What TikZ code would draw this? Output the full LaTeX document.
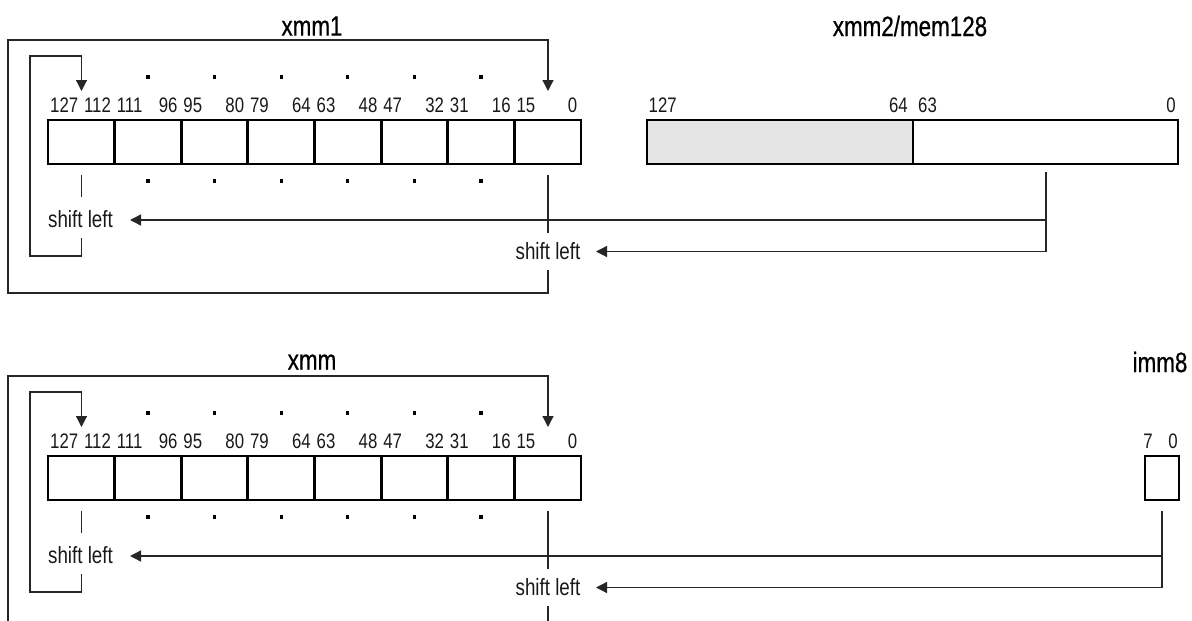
\documentclass[tikz,border=0pt]{standalone}
\usepackage{fontspec}
\setmainfont{Liberation Sans}
\newfontfamily\condfont[FakeStretch=0.8]{Liberation Sans}
\newfontfamily\titlefont[FakeStretch=0.8,FakeBold=0.6]{Liberation Sans}
\usetikzlibrary{arrows.meta}
\begin{document}
\begin{tikzpicture}[x=1pt,y=-1pt,
  thinline/.style={line width=1.3pt, draw=black!85},
  arr/.style={thinline,-{Triangle[width=11pt,length=11pt]}},
  regbox/.style={draw=black, line width=2.8pt, minimum height=44pt, inner sep=0pt, outer sep=0pt},
  bitlab/.style={font=\condfont\fontsize{21}{21}\selectfont, inner sep=0pt, text=black!90},
  sllab/.style={font=\condfont\fontsize{23.5}{23.5}\selectfont, inner sep=0pt, text=black!90},
  regtitle/.style={font=\titlefont\fontsize{28}{28}\selectfont, inner sep=0pt},
  bitdot/.style={fill=black, minimum size=3.2pt, inner sep=0pt, draw=none}
]
\useasboundingbox (0,0) rectangle (1192,621);
\clip (0,0) rectangle (1192,621);

% ---------- the two xmm register sections ----------
\foreach \s/\off/\ttl in {A/0/xmm1, B/336/xmm}{
  \begin{scope}[shift={(0,\off)}]
    \node[regtitle] (\s-title) at (312,26) {\ttl};
    \foreach \i in {0,...,7}{
      \pgfmathsetmacro\cx{48+66.625*(\i+0.5)}
      \pgfmathsetmacro\lx{48+66.625*\i+2}
      \pgfmathsetmacro\rx{48+66.625*(\i+1)-3.5}
      \pgfmathtruncatemacro\hi{127-16*\i}
      \pgfmathtruncatemacro\lo{112-16*\i}
      \node[regbox, minimum width=66.625pt] (\s-c\i) at (\cx,142) {};
      \node[bitlab, anchor=west] (\s-h\i) at (\lx,105) {\hi};
      \node[bitlab, anchor=east] (\s-l\i) at (\rx,105) {\lo};
    }
    \foreach \i in {1,...,6}{
      \pgfmathsetmacro\cx{48+66.625*(\i+0.5)}
      \node[bitdot] (\s-du\i) at (\cx,77) {};
      \node[bitdot] (\s-dd\i) at (\cx,181) {};
    }
    % inner loop (shift into bits 127..112)
    \coordinate (\s-it0) at (81.5,175);
    \coordinate (\s-it1) at (81.5,197);
    \draw[thinline] (\s-it0) -- (\s-it1);
    \node[sllab] (\s-sl1) at (80.5,219) {shift left};
    \coordinate (\s-ib0) at (81.5,238);
    \coordinate (\s-itip) at (81.5,91);
    \draw[arr] (\s-ib0) -- (81.5,256) -- (30,256) -- (30,56) -- (81.5,56) -- (\s-itip);
    % outer loop (shift into bits 15..0)
    \coordinate (\s-ot0) at (548,175);
    \coordinate (\s-ot1) at (548,233);
    \draw[thinline] (\s-ot0) -- (\s-ot1);
    \node[sllab] (\s-sl2) at (548,251) {shift left};
    \coordinate (\s-ob0) at (548,270);
    \coordinate (\s-otip) at (548,91);
    \draw[arr] (\s-ob0) -- (548,293) -- (8,293) -- (8,40) -- (548,40) -- (\s-otip);
    \coordinate (\s-tip1) at (130,220);
    \coordinate (\s-tip2) at (596,251.5);
  \end{scope}
}

% ---------- xmm2/mem128 ----------
\node[regtitle] (m-title) at (910,26) {xmm2/mem128};
\node[regbox, fill=black!10, minimum width=266pt] (m-hi) at (780,142) {};
\node[regbox, minimum width=265pt] (m-lo) at (1045.5,142) {};
\node[bitlab, anchor=west] (m-l127) at (648.5,105) {127};
\node[bitlab, anchor=east] (m-l64) at (908,105) {64};
\node[bitlab, anchor=west] (m-l63) at (918,105) {63};
\node[bitlab, anchor=east] (m-l0) at (1176,105) {0};
\coordinate (m-s0) at (1046,172);
\coordinate (m-s1) at (1046,220);
\coordinate (m-s2) at (1046,251.5);
\draw[thinline] (m-s0) -- (m-s2);
\draw[arr] (m-s1) -- (A-tip1);
\draw[arr] (m-s2) -- (A-tip2);

% ---------- imm8 ----------
\node[regtitle] (i-title) at (1160,362) {imm8};
\node[regbox, minimum width=34pt] (i-box) at (1162,478) {};
\node[bitlab] (i-l7) at (1148,441) {7};
\node[bitlab] (i-l0) at (1173,441) {0};
\coordinate (i-s0) at (1162,511);
\coordinate (i-s1) at (1162,556);
\coordinate (i-s2) at (1162,587.5);
\draw[thinline] (i-s0) -- (i-s2);
\draw[arr] (i-s1) -- (B-tip1);
\draw[arr] (i-s2) -- (B-tip2);
\end{tikzpicture}
\end{document}
